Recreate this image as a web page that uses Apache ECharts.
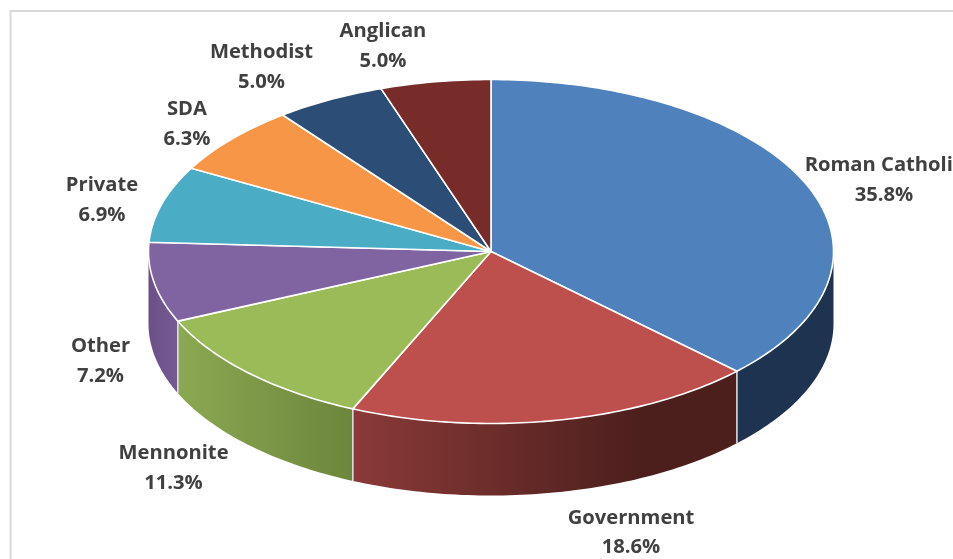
<!DOCTYPE html>
<html>
<head>
<meta charset="utf-8">
<style>html,body{margin:0;padding:0;background:#fff;overflow:hidden}#c{width:953px;height:559px}</style>
<script src="https://cdn.jsdelivr.net/npm/echarts@6/dist/echarts.min.js"></script>
</head>
<body>
<div id="c"></div>
<script>
const categories = ['Roman Catholic','Government','Mennonite','Other','Private','SDA','Methodist','Anglican'];
const shares = [35.8,18.6,11.3,7.2,6.9,6.3,5.0,5.0];
const topColors = ['#4f81bd','#bd4f4c','#9bbb59','#8064a2','#4bacc6','#f79646','#2c4d75','#772c2a'];
const wallFrom = ['#1d3350','#8a3a38','#8ba852','#6b5088','#4bacc6','#f79646','#2c4d75','#772c2a'];
const wallTo   = ['#1d3350','#4c1f1d','#6c863c','#755a94','#4bacc6','#f79646','#2c4d75','#772c2a'];
const labelCenters = [[884,180],[631,532.5],[173.5,468],[100.5,361],[102,200],[187,124],[261.5,67],[383,46]];

const CX = 491, CY = 251.5, RX = 342.5, RY = 172, DEPTH = 72;
const total = shares.reduce((a,b)=>a+b,0);
const pt = (deg, dz) => {
  const r = deg*Math.PI/180;
  return [CX + RX*Math.sin(r), CY - RY*Math.cos(r) + (dz||0)];
};
const arc = (a0, a1, dz) => {
  const n = Math.max(2, Math.ceil(Math.abs(a1-a0)));
  const out = [];
  for (let i=0;i<=n;i++) out.push(pt(a0+(a1-a0)*i/n, dz));
  return out;
};
function renderItem(params, api) {
  const i = params.dataIndex;
  let before = 0;
  for (let k=0;k<i;k++) before += shares[k];
  const a0 = before/total*360, a1 = (before+shares[i])/total*360;
  const children = [];
  const w0 = Math.max(a0,90), w1 = Math.min(a1,270);
  if (w1 > w0) {
    children.push({
      type:'polygon', z2:1,
      shape:{points: arc(w0,w1,0).concat(arc(w1,w0,DEPTH))},
      style:{fill:{type:'linear',x:1,y:0,x2:0,y2:0,global:false,colorStops:[
        {offset:0,color:wallTo[i]},{offset:i===1?0.25:0,color:wallTo[i]},{offset:1,color:wallFrom[i]}]}}
    });
    if (w1 === a1) {
      children.push({type:'line', z2:2,
        shape:{x1:pt(a1)[0],y1:pt(a1)[1],x2:pt(a1)[0],y2:pt(a1,DEPTH)[1]},
        style:{stroke:'#e4e4e4',lineWidth:1.5}});
    }
  }
  children.push({
    type:'polygon', z2:3,
    shape:{points:[[CX,CY]].concat(arc(a0,a1,0))},
    style:{fill:topColors[i],stroke:'#ffffff',lineWidth:1.6,lineJoin:'round'}
  });
  children.push({
    type:'text', z2:4, x:labelCenters[i][0], y:labelCenters[i][1],
    style:{text:categories[i]+'\n'+api.value(1).toFixed(1)+'%',
      fill:'#404040',align:'center',verticalAlign:'middle',
      font:'bold 20.2px "Open Sans"',lineHeight:29.5}
  });
  return {type:'group',children};
}
const chart = echarts.init(document.getElementById('c'),null,{renderer:'canvas'});
chart.setOption({
  animation:false,
  backgroundColor:'#ffffff',
  graphic:[{type:'rect',z:-1,shape:{x:10.5,y:11,width:1000,height:620},
    style:{fill:'none',stroke:'#d9d9d9',lineWidth:2}}],
  series:[{type:'custom',coordinateSystem:'none',renderItem,
    data:shares.map((v,i)=>[i,v])}]
});
</script>
</body>
</html>
